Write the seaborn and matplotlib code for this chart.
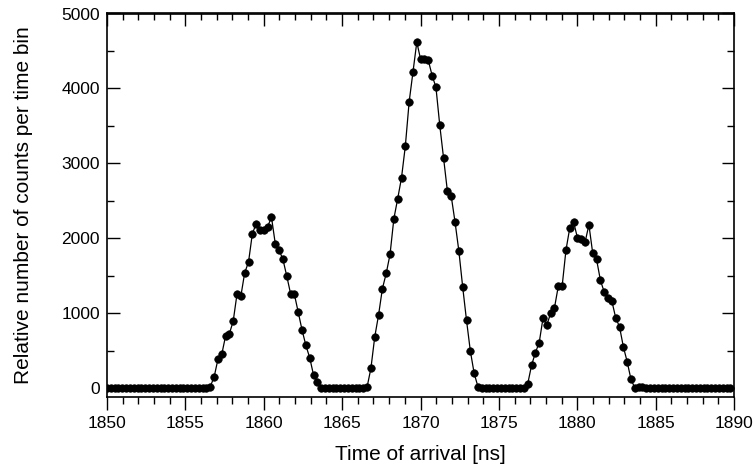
import numpy as np
import pandas as pd
import matplotlib
matplotlib.use("Agg")
import matplotlib.pyplot as plt
from matplotlib.ticker import MultipleLocator
import seaborn as sns

# Time-of-flight histogram: bin width and start of the recorded window
bin_width_ns = 0.244
start_ns = 1850.0

# Counts per time bin (164 bins)
counts = (
    [0] * 27
    + [25, 150, 387, 453, 698, 729, 898, 1262, 1231, 1542, 1684, 2062, 2196,
       2107, 2107, 2156, 2284, 1929, 1844, 1720, 1498, 1262, 1253, 1018, 778,
       573, 409, 178, 84]
    + [10] + [0] * 11
    + [18, 267, 685, 978, 1329, 1533, 1787, 2262, 2529, 2809, 3231, 3822,
       4218, 4618, 4387, 4396, 4378, 4173, 4018, 3511, 3076, 2631, 2564, 2218,
       1831, 1351, 907, 498, 200, 20]
    + [0] * 12
    + [60, 307, 476, 609, 938, 849, 1000, 1076, 1364, 1364, 1844, 2142, 2218,
       2009, 1996, 1951, 2182, 1800, 1720, 1444, 1284, 1209, 1164, 942, 822,
       556, 356, 120]
    + [8, 15, 12, 10] + [0] * 22
)
times = start_ns + bin_width_ns * np.arange(len(counts))

x_ticks = [1850, 1855, 1860, 1865, 1870, 1875, 1880, 1885, 1890]
y_ticks = [0, 1000, 2000, 3000, 4000, 5000]

df = pd.DataFrame({"time": times, "counts": counts})

sns.set_style("ticks")
plt.rcParams["font.family"] = ["Liberation Sans", "DejaVu Sans"]
plt.rcParams.update({
    "text.color": "black",
    "axes.labelcolor": "black",
    "xtick.color": "black",
    "ytick.color": "black",
    "axes.edgecolor": "black",
})

fig = plt.figure(figsize=(7.55, 4.70), dpi=100)
ax = fig.add_axes([107 / 755, 1 - 397 / 470, 627 / 755, (397 - 13.5) / 470])

sns.lineplot(data=df, x="time", y="counts", ax=ax, color="black",
             linewidth=0.9, marker="o", markersize=5.4,
             markerfacecolor="black", markeredgecolor="black",
             markeredgewidth=0.5)

ax.set_xlim(1850, 1890)
ax.set_ylim(-115, 5000)
ax.set_xticks(x_ticks)
ax.set_yticks(y_ticks)
ax.xaxis.set_minor_locator(MultipleLocator(1))
ax.yaxis.set_minor_locator(MultipleLocator(500))

for side in ["top", "right", "left", "bottom"]:
    ax.spines[side].set_visible(True)
    ax.spines[side].set_linewidth(1.2)
    ax.spines[side].set_color("black")

ax.tick_params(axis="x", which="both", direction="out", bottom=True, top=False,
               labelsize=12.5, pad=5, width=1.0, color="black",
               labelcolor="black")
ax.tick_params(axis="x", which="major", length=9)
ax.tick_params(axis="x", which="minor", length=5)
ax.tick_params(axis="y", which="both", direction="in", left=True, right=True,
               labelsize=12.5, pad=5, width=1.0, color="black",
               labelcolor="black")
ax.tick_params(axis="y", which="major", length=9)
ax.tick_params(axis="y", which="minor", length=5)

# inward ticks along the top edge
top = ax.secondary_xaxis("top")
top.set_xticks(x_ticks)
top.xaxis.set_minor_locator(MultipleLocator(1))
top.tick_params(axis="x", which="both", direction="in", labeltop=False,
                width=1.0, color="black")
top.tick_params(axis="x", which="major", length=9)
top.tick_params(axis="x", which="minor", length=5)
top.spines["top"].set_linewidth(1.2)
top.spines["top"].set_color("black")

ax.set_xlabel("Time of arrival [ns]", fontsize=15, color="black")
ax.set_ylabel("Relative number of counts per time bin", fontsize=15,
              color="black")
ax.xaxis.set_label_coords(0.5, -0.125)
ax.yaxis.set_label_coords(-0.118, 0.5)

fig.savefig("out.png", dpi=100)
